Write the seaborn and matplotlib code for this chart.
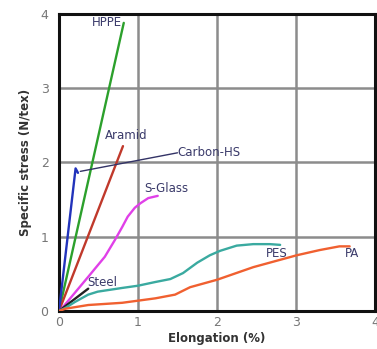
import matplotlib
matplotlib.use("Agg")
import matplotlib.pyplot as plt
import seaborn as sns
import pandas as pd

sns.set_style("white")
plt.rcParams['font.family'] = ['DejaVu Sans']

# Data
hppe_x = [0.0, 0.82]
hppe_y = [0.0, 3.88]
aramid_x = [0.0, 0.81]
aramid_y = [0.0, 2.22]
carbon_x = [0.0, 0.21, 0.24]
carbon_y = [0.0, 1.92, 1.86]
sglass_x = [0.0, 0.04, 0.37, 0.58, 0.71, 0.80, 0.87, 0.96, 1.03, 1.13, 1.25]
sglass_y = [0.0, 0.04, 0.46, 0.73, 0.96, 1.13, 1.27, 1.39, 1.45, 1.52, 1.55]
steel_x = [0.0, 0.37]
steel_y = [0.0, 0.30]
pes_x = [0.0, 0.08, 0.20, 0.37, 0.49, 0.80, 1.00, 1.22, 1.41, 1.57, 1.75, 1.91, 2.04, 2.25, 2.46, 2.67, 2.80]
pes_y = [0.0, 0.04, 0.12, 0.22, 0.26, 0.31, 0.34, 0.39, 0.43, 0.51, 0.65, 0.75, 0.81, 0.88, 0.90, 0.90, 0.89]
pa_x = [0.0, 0.08, 0.37, 0.80, 1.22, 1.47, 1.66, 2.00, 2.46, 3.01, 3.30, 3.55, 3.68]
pa_y = [0.0, 0.03, 0.08, 0.11, 0.17, 0.22, 0.32, 0.42, 0.59, 0.75, 0.82, 0.87, 0.87]
leader_x = [0.27, 1.50]
leader_y = [1.88, 2.13]

ticks = [0, 1, 2, 3, 4]

series = [
    ("HPPE", hppe_x, hppe_y, "#2ca02c"),
    ("Aramid", aramid_x, aramid_y, "#c0392b"),
    ("Carbon-HS", carbon_x, carbon_y, "#2233bb"),
    ("S-Glass", sglass_x, sglass_y, "#e040e8"),
    ("Steel", steel_x, steel_y, "#222222"),
    ("PES", pes_x, pes_y, "#3aaaa0"),
    ("PA", pa_x, pa_y, "#f06030"),
]

fig = plt.figure(figsize=(3.77, 3.49), dpi=100)
ax = fig.add_axes([0.1565, 0.109, 0.838, 0.851])

for name, xs, ys, col in series:
    df = pd.DataFrame({"x": xs, "y": ys})
    sns.lineplot(data=df, x="x", y="y", ax=ax, color=col, lw=1.7, sort=False, zorder=3)

sns.lineplot(data=pd.DataFrame({"x": leader_x, "y": leader_y}), x="x", y="y",
             ax=ax, color="#333366", lw=1.0, sort=False, zorder=3)

ax.set_xlim(0, 4)
ax.set_ylim(0, 4)
ax.set_xticks(ticks)
ax.set_yticks(ticks)
ax.grid(True, color="#8c8c8c", lw=1.8, zorder=1)
for gl in ax.get_xgridlines():
    if abs(gl.get_xdata()[0] - 1) < 1e-9:
        gl.set_color("#111111")
for s in ax.spines.values():
    s.set_color("#111111")
    s.set_linewidth(2.2)
ax.tick_params(axis="both", labelsize=9, labelcolor="#777777", color="#333333",
               length=4, width=1.5)
ax.tick_params(axis="x", direction="in", length=5)
ax.set_xlabel("Elongation (%)", fontsize=8.5, fontweight="bold", color="#333333", labelpad=2)
ax.set_ylabel("Specific stress (N/tex)", fontsize=8.5, fontweight="bold", color="#333333", labelpad=6)

lab = dict(fontsize=8.5, color="#3a3a6a", zorder=4)
ax.text(0.80, 3.88, "HPPE", ha="right", va="center", **lab)
ax.text(0.58, 2.28, "Aramid", ha="left", va="bottom", **lab)
ax.text(1.50, 2.13, "Carbon-HS", ha="left", va="center", **lab)
ax.text(1.08, 1.65, "S-Glass", ha="left", va="center", **lab)
ax.text(0.36, 0.38, "Steel", ha="left", va="center", **lab)
ax.text(2.62, 0.78, "PES", ha="left", va="center", **lab)
ax.text(3.62, 0.78, "PA", ha="left", va="center", **lab)

fig.savefig("out.png", dpi=100)
